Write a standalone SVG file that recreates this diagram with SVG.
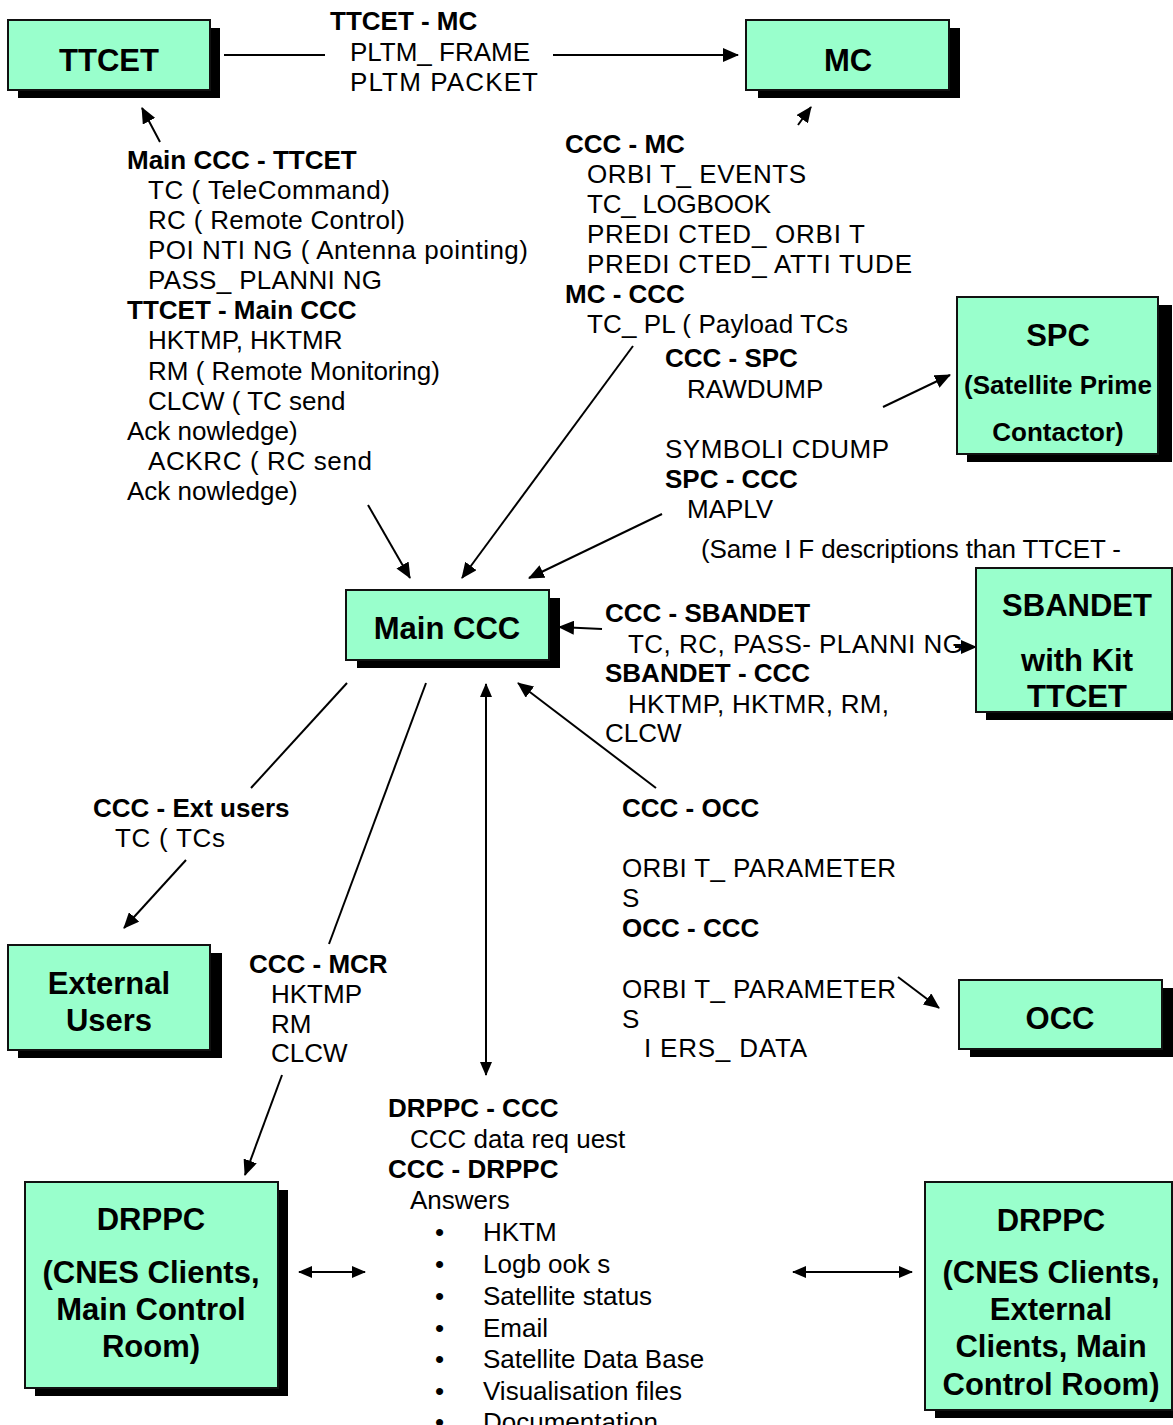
<svg xmlns="http://www.w3.org/2000/svg" width="1173" height="1425" viewBox="0 0 1173 1425" xml:space="preserve">
<style>
.box{fill:#99FFCC;stroke:#111;stroke-width:2}
.sh{fill:#000}
.t{font-family:"Liberation Sans",Arial,sans-serif;font-weight:bold;font-size:31px;text-anchor:middle;fill:#000}
.ts{font-family:"Liberation Sans",Arial,sans-serif;font-weight:bold;font-size:26px;text-anchor:middle;fill:#000}
.b{font-family:"Liberation Sans",Arial,sans-serif;font-weight:bold;font-size:26px;fill:#000}
.r{font-family:"Liberation Sans",Arial,sans-serif;font-size:26px;fill:#000}
.c{stroke:#000;stroke-width:2;fill:none}
.a{marker-end:url(#ah)}
.d{marker-end:url(#ah2);marker-start:url(#ah2)}
</style>
<defs>
<marker id="ah" markerUnits="userSpaceOnUse" markerWidth="16" markerHeight="14" refX="15" refY="7" orient="auto"><path d="M0,0 L16,7 L0,14 z" fill="#000"/></marker>
<marker id="ah2" markerUnits="userSpaceOnUse" markerWidth="14" markerHeight="12" refX="13" refY="6" orient="auto-start-reverse"><path d="M0,0 L14,6 L0,12 z" fill="#000"/></marker>
</defs>
<rect width="1173" height="1425" fill="#fff"/>

<g id="connectors">
<line class="c" x1="224" y1="55" x2="325" y2="55"/>
<line class="c a" x1="553" y1="55" x2="738" y2="55"/>
<line class="c a" x1="160" y1="142" x2="142" y2="108"/>
<line class="c a" x1="798" y1="125" x2="811" y2="107"/>
<line class="c a" x1="368" y1="505" x2="410" y2="578"/>
<line class="c a" x1="633" y1="346" x2="462" y2="578"/>
<line class="c a" x1="662" y1="514" x2="529" y2="578"/>
<line class="c a" x1="883" y1="407" x2="950" y2="375"/>
<line class="c a" x1="602" y1="629" x2="559" y2="627"/>
<line class="c a" x1="955" y1="647" x2="976" y2="647"/>
<line class="c a" x1="656" y1="788" x2="518" y2="683"/>
<line class="c d" x1="486" y1="684" x2="486" y2="1075"/>
<line class="c" x1="347" y1="683" x2="251" y2="788"/>
<line class="c a" x1="186" y1="860" x2="124" y2="928"/>
<line class="c" x1="426" y1="683" x2="329" y2="944"/>
<line class="c a" x1="282" y1="1075" x2="245" y2="1175"/>
<line class="c a" x1="898" y1="977" x2="939" y2="1008"/>
<line class="c d" x1="299" y1="1272" x2="365" y2="1272"/>
<line class="c d" x1="793" y1="1272" x2="912" y2="1272"/>
</g>

<g id="node-ttcet">
<rect class="sh" x="18" y="28" width="202" height="70"/>
<rect class="box" x="8" y="20" width="202" height="70"/>
<text class="t" x="109" y="71">TTCET</text>
</g>
<g id="node-mc">
<rect class="sh" x="758" y="28" width="202" height="70"/>
<rect class="box" x="746" y="20" width="203" height="70"/>
<text class="t" x="848" y="71">MC</text>
</g>
<g id="node-spc">
<rect class="sh" x="967" y="305" width="205" height="157"/>
<rect class="box" x="957" y="297" width="201" height="157"/>
<text class="t" x="1058" y="346">SPC</text>
<text class="ts" x="1058" y="394">(Satellite Prime</text>
<text class="ts" x="1058" y="441">Contactor)</text>
</g>
<g id="node-mainccc">
<rect class="sh" x="357" y="598" width="203" height="70"/>
<rect class="box" x="346" y="590" width="203" height="70"/>
<text class="t" x="447" y="639">Main CCC</text>
</g>
<g id="node-sbandet">
<rect class="sh" x="986" y="576" width="200" height="144"/>
<rect class="box" x="976" y="568" width="196" height="144"/>
<text class="t" x="1077" y="616">SBANDET</text>
<text class="t" x="1077" y="671">with Kit</text>
<text class="t" x="1077" y="707">TTCET</text>
</g>
<g id="node-extusers">
<rect class="sh" x="18" y="953" width="204" height="105"/>
<rect class="box" x="8" y="945" width="202" height="105"/>
<text class="t" x="109" y="994">External</text>
<text class="t" x="109" y="1031">Users</text>
</g>
<g id="node-occ">
<rect class="sh" x="970" y="988" width="210" height="69"/>
<rect class="box" x="959" y="980" width="203" height="69"/>
<text class="t" x="1060" y="1029">OCC</text>
</g>
<g id="node-drppc-left">
<rect class="sh" x="35" y="1190" width="253" height="206"/>
<rect class="box" x="25" y="1182" width="253" height="206"/>
<text class="t" x="151" y="1230">DRPPC</text>
<text class="t" x="151" y="1283">(CNES Clients,</text>
<text class="t" x="151" y="1320">Main Control</text>
<text class="t" x="151" y="1357">Room)</text>
</g>
<g id="node-drppc-right">
<rect class="sh" x="935" y="1190" width="250" height="228"/>
<rect class="box" x="925" y="1182" width="247" height="228"/>
<text class="t" x="1051" y="1231">DRPPC</text>
<text class="t" x="1051" y="1283">(CNES Clients,</text>
<text class="t" x="1051" y="1320">External</text>
<text class="t" x="1051" y="1357">Clients, Main</text>
<text class="t" x="1051" y="1395">Control Room)</text>
</g>

<g id="labels">
<text class="b" x="330" y="30">TTCET - MC</text>
<text class="r" x="350" y="61" textLength="180" lengthAdjust="spacing">PLTM_ FRAME</text>
<text class="r" x="350" y="91" textLength="188" lengthAdjust="spacing">PLTM PACKET</text>

<text class="b" x="127" y="169">Main CCC - TTCET</text>
<text class="r" x="148" y="199" textLength="242" lengthAdjust="spacing">TC ( TeleCommand)</text>
<text class="r" x="148" y="229" textLength="257" lengthAdjust="spacing">RC ( Remote Control)</text>
<text class="r" x="148" y="259" textLength="380" lengthAdjust="spacing">POI NTI NG ( Antenna pointing)</text>
<text class="r" x="148" y="289" textLength="234" lengthAdjust="spacing">PASS_ PLANNI NG</text>
<text class="b" x="127" y="319">TTCET - Main CCC</text>
<text class="r" x="148" y="349">HKTMP, HKTMR</text>
<text class="r" x="148" y="380">RM ( Remote Monitoring)</text>
<text class="r" x="148" y="410">CLCW ( TC send</text>
<text class="r" x="127" y="440">Ack nowledge)</text>
<text class="r" x="148" y="470" textLength="224" lengthAdjust="spacing">ACKRC ( RC send</text>
<text class="r" x="127" y="500">Ack nowledge)</text>

<text class="b" x="565" y="153">CCC - MC</text>
<text class="r" x="587" y="183" textLength="219" lengthAdjust="spacing">ORBI T_ EVENTS</text>
<text class="r" x="587" y="213" textLength="184" lengthAdjust="spacing">TC_ LOGBOOK</text>
<text class="r" x="587" y="243" textLength="278" lengthAdjust="spacing">PREDI CTED_ ORBI T</text>
<text class="r" x="587" y="273" textLength="325" lengthAdjust="spacing">PREDI CTED_ ATTI TUDE</text>
<text class="b" x="565" y="303">MC - CCC</text>
<text class="r" x="587" y="333" textLength="261" lengthAdjust="spacing">TC_ PL ( Payload TCs</text>
<text class="b" x="665" y="367">CCC - SPC</text>
<text class="r" x="687" y="398">RAWDUMP</text>
<text class="r" x="665" y="458" textLength="224" lengthAdjust="spacing">SYMBOLI CDUMP</text>
<text class="b" x="665" y="488">SPC - CCC</text>
<text class="r" x="687" y="518">MAPLV</text>
<text class="r" x="701" y="558" textLength="420" lengthAdjust="spacing">(Same I F descriptions than TTCET -</text>

<text class="b" x="605" y="622">CCC - SBANDET</text>
<text class="r" x="628" y="653" textLength="335" lengthAdjust="spacing">TC, RC, PASS- PLANNI NG</text>
<text class="b" x="605" y="682">SBANDET - CCC</text>
<text class="r" x="628" y="713" textLength="261" lengthAdjust="spacing">HKTMP, HKTMR, RM,</text>
<text class="r" x="605" y="742">CLCW</text>

<text class="b" x="93" y="817">CCC - Ext users</text>
<text class="r" x="115" y="847" textLength="110" lengthAdjust="spacing">TC ( TCs</text>

<text class="b" x="249" y="973">CCC - MCR</text>
<text class="r" x="271" y="1003">HKTMP</text>
<text class="r" x="271" y="1033">RM</text>
<text class="r" x="271" y="1062">CLCW</text>

<text class="b" x="622" y="817">CCC - OCC</text>
<text class="r" x="622" y="877" textLength="274" lengthAdjust="spacing">ORBI T_ PARAMETER</text>
<text class="r" x="622" y="907">S</text>
<text class="b" x="622" y="937">OCC - CCC</text>
<text class="r" x="622" y="998" textLength="274" lengthAdjust="spacing">ORBI T_ PARAMETER</text>
<text class="r" x="622" y="1028">S</text>
<text class="r" x="644" y="1057" textLength="163" lengthAdjust="spacing">I ERS_ DATA</text>

<text class="b" x="388" y="1117">DRPPC - CCC</text>
<text class="r" x="410" y="1148">CCC data req uest</text>
<text class="b" x="388" y="1178">CCC - DRPPC</text>
<text class="r" x="410" y="1209">Answers</text>
<text class="r" x="435" y="1241">•</text><text class="r" x="483" y="1241">HKTM</text>
<text class="r" x="435" y="1273">•</text><text class="r" x="483" y="1273">Logb ook s</text>
<text class="r" x="435" y="1305">•</text><text class="r" x="483" y="1305">Satellite status</text>
<text class="r" x="435" y="1337">•</text><text class="r" x="483" y="1337">Email</text>
<text class="r" x="435" y="1368">•</text><text class="r" x="483" y="1368">Satellite Data Base</text>
<text class="r" x="435" y="1400">•</text><text class="r" x="483" y="1400">Visualisation files</text>
<text class="r" x="435" y="1431">•</text><text class="r" x="483" y="1431">Documentation</text>
</g>
</svg>
